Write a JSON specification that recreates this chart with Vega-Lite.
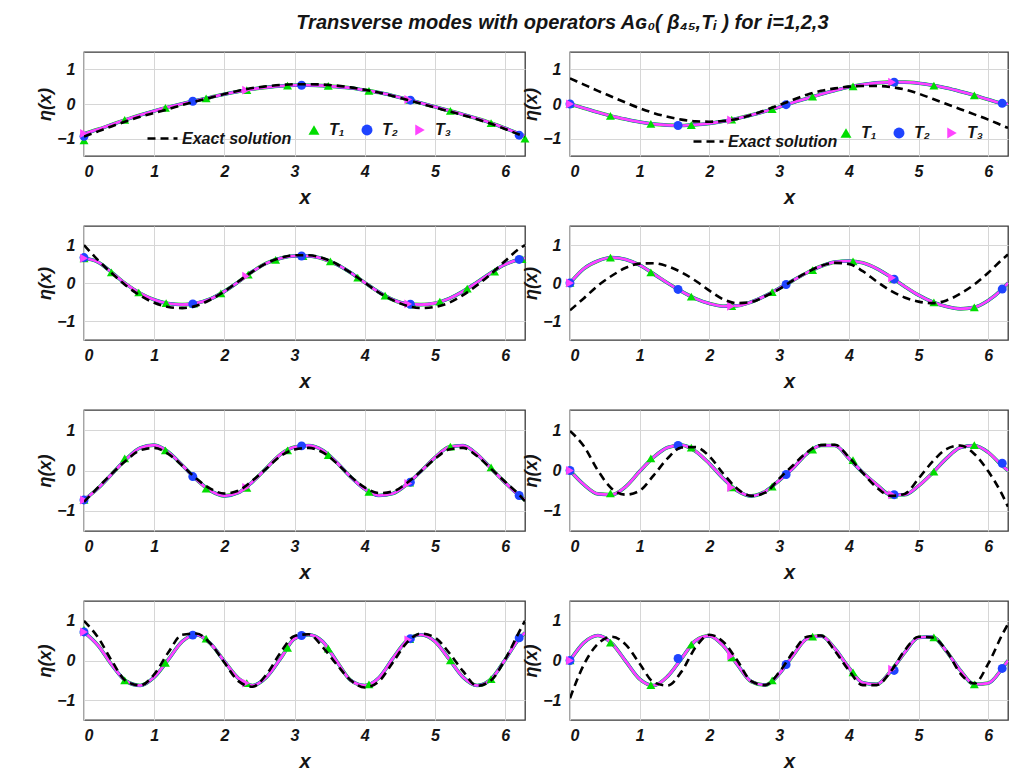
{
"$schema": "https://vega.github.io/schema/vega-lite/v6.json",
"autosize": {"type": "pad"},
"padding": {"left": 36, "top": 13, "right": 4, "bottom": 0},
"background": "white",
"title": {"text": "Transverse modes with operators Aɢ₀( β₄₅,Tᵢ ) for i=1,2,3", "anchor": "middle", "offset": 18, "dx": 40},
"config": {
  "font": "Liberation Sans",
  "view": {"stroke": "#3a3a3a", "strokeWidth": 1.3},
  "axis": {"grid": true, "gridColor": "#d6d6d6", "gridWidth": 1, "domain": false, "ticks": false, "tickSize": 0, "labelFont": "Liberation Sans", "labelFontWeight": "bold", "labelFontStyle": "italic", "labelFontSize": 16, "labelColor": "#151515", "titleFont": "Liberation Sans", "titleFontWeight": "bold", "titleFontStyle": "italic", "titleColor": "#151515"},
  "axisX": {"labelPadding": 7, "titleFontSize": 20, "titlePadding": 8, "format": "d"},
  "axisY": {"labelPadding": 9, "titleFontSize": 18, "titlePadding": 2, "format": "d"},
  "legend": {"padding": 0, "labelFont": "Liberation Sans", "labelFontWeight": "bold", "labelFontStyle": "italic", "labelFontSize": 16, "labelColor": "#151515"},
  "title": {"font": "Liberation Sans", "fontSize": 20, "fontWeight": "bold", "fontStyle": "italic", "color": "#151515"}
},
"datasets": {
"c": [
{"p":1,"x":0,"e":-0.94,"t":-0.86},{"p":1,"x":0.2,"e":-0.79,"t":-0.73},{"p":1,"x":0.4,"e":-0.64,"t":-0.59},{"p":1,"x":0.6,"e":-0.5,"t":-0.45},{"p":1,"x":0.8,"e":-0.37,"t":-0.32},{"p":1,"x":1,"e":-0.26,"t":-0.2},{"p":1,"x":1.2,"e":-0.15,"t":-0.09},{"p":1,"x":1.4,"e":-0.03,"t":0.01},{"p":1,"x":1.6,"e":0.08,"t":0.1},{"p":1,"x":1.8,"e":0.18,"t":0.19},{"p":1,"x":2,"e":0.29,"t":0.28},{"p":1,"x":2.2,"e":0.38,"t":0.36},{"p":1,"x":2.4,"e":0.46,"t":0.43},{"p":1,"x":2.6,"e":0.51,"t":0.48},{"p":1,"x":2.8,"e":0.55,"t":0.52},{"p":1,"x":3,"e":0.57,"t":0.54},{"p":1,"x":3.2,"e":0.57,"t":0.54},{"p":1,"x":3.4,"e":0.56,"t":0.53},{"p":1,"x":3.6,"e":0.53,"t":0.5},{"p":1,"x":3.8,"e":0.48,"t":0.46},{"p":1,"x":4,"e":0.41,"t":0.4},{"p":1,"x":4.2,"e":0.33,"t":0.33},{"p":1,"x":4.4,"e":0.23,"t":0.24},{"p":1,"x":4.6,"e":0.12,"t":0.14},{"p":1,"x":4.8,"e":0.01,"t":0.03},{"p":1,"x":5,"e":-0.1,"t":-0.08},{"p":1,"x":5.2,"e":-0.21,"t":-0.19},{"p":1,"x":5.4,"e":-0.32,"t":-0.3},{"p":1,"x":5.6,"e":-0.44,"t":-0.42},{"p":1,"x":5.8,"e":-0.57,"t":-0.55},{"p":1,"x":6,"e":-0.72,"t":-0.7},{"p":1,"x":6.2,"e":-0.88,"t":-0.86},{"p":1,"x":6.283,"e":-0.94,"t":-0.93},
{"p":2,"x":0,"e":0.74,"t":0},{"p":2,"x":0.2,"e":0.56,"t":-0.12},{"p":2,"x":0.4,"e":0.38,"t":-0.24},{"p":2,"x":0.6,"e":0.21,"t":-0.35},{"p":2,"x":0.8,"e":0.04,"t":-0.44},{"p":2,"x":1,"e":-0.12,"t":-0.52},{"p":2,"x":1.2,"e":-0.26,"t":-0.58},{"p":2,"x":1.4,"e":-0.37,"t":-0.61},{"p":2,"x":1.6,"e":-0.45,"t":-0.62},{"p":2,"x":1.8,"e":-0.5,"t":-0.6},{"p":2,"x":2,"e":-0.51,"t":-0.56},{"p":2,"x":2.2,"e":-0.49,"t":-0.5},{"p":2,"x":2.4,"e":-0.43,"t":-0.42},{"p":2,"x":2.6,"e":-0.32,"t":-0.32},{"p":2,"x":2.8,"e":-0.18,"t":-0.21},{"p":2,"x":3,"e":-0.03,"t":-0.09},{"p":2,"x":3.2,"e":0.12,"t":0.04},{"p":2,"x":3.4,"e":0.27,"t":0.16},{"p":2,"x":3.6,"e":0.38,"t":0.28},{"p":2,"x":3.8,"e":0.45,"t":0.39},{"p":2,"x":4,"e":0.5,"t":0.49},{"p":2,"x":4.2,"e":0.52,"t":0.56},{"p":2,"x":4.4,"e":0.52,"t":0.61},{"p":2,"x":4.6,"e":0.49,"t":0.63},{"p":2,"x":4.8,"e":0.42,"t":0.63},{"p":2,"x":5,"e":0.3,"t":0.6},{"p":2,"x":5.2,"e":0.15,"t":0.54},{"p":2,"x":5.4,"e":0,"t":0.46},{"p":2,"x":5.6,"e":-0.15,"t":0.36},{"p":2,"x":5.8,"e":-0.3,"t":0.25},{"p":2,"x":6,"e":-0.45,"t":0.13},{"p":2,"x":6.2,"e":-0.62,"t":0.02},{"p":2,"x":6.283,"e":-0.69,"t":0},
{"p":3,"x":0,"e":1.0,"t":0.65},{"p":3,"x":0.2,"e":0.6,"t":0.55},{"p":3,"x":0.4,"e":0.25,"t":0.27},{"p":3,"x":0.6,"e":-0.07,"t":-0.03},{"p":3,"x":0.8,"e":-0.33,"t":-0.27},{"p":3,"x":1,"e":-0.52,"t":-0.44},{"p":3,"x":1.2,"e":-0.63,"t":-0.54},{"p":3,"x":1.4,"e":-0.66,"t":-0.57},{"p":3,"x":1.6,"e":-0.6,"t":-0.53},{"p":3,"x":1.8,"e":-0.44,"t":-0.42},{"p":3,"x":2,"e":-0.22,"t":-0.22},{"p":3,"x":2.2,"e":0.04,"t":0.03},{"p":3,"x":2.4,"e":0.3,"t":0.3},{"p":3,"x":2.6,"e":0.52,"t":0.52},{"p":3,"x":2.8,"e":0.66,"t":0.65},{"p":3,"x":3,"e":0.73,"t":0.71},{"p":3,"x":3.2,"e":0.73,"t":0.71},{"p":3,"x":3.4,"e":0.66,"t":0.64},{"p":3,"x":3.6,"e":0.5,"t":0.49},{"p":3,"x":3.8,"e":0.27,"t":0.27},{"p":3,"x":4,"e":0.01,"t":0.01},{"p":3,"x":4.2,"e":-0.25,"t":-0.24},{"p":3,"x":4.4,"e":-0.45,"t":-0.44},{"p":3,"x":4.6,"e":-0.6,"t":-0.55},{"p":3,"x":4.8,"e":-0.66,"t":-0.57},{"p":3,"x":5,"e":-0.63,"t":-0.53},{"p":3,"x":5.2,"e":-0.52,"t":-0.41},{"p":3,"x":5.4,"e":-0.32,"t":-0.22},{"p":3,"x":5.6,"e":-0.06,"t":0.02},{"p":3,"x":5.8,"e":0.24,"t":0.27},{"p":3,"x":6,"e":0.58,"t":0.49},{"p":3,"x":6.2,"e":0.9,"t":0.62},{"p":3,"x":6.283,"e":1.0,"t":0.65},
{"p":4,"x":0,"e":-0.72,"t":0},{"p":4,"x":0.2,"e":-0.4,"t":0.38},{"p":4,"x":0.4,"e":-0.07,"t":0.58},{"p":4,"x":0.6,"e":0.19,"t":0.67},{"p":4,"x":0.8,"e":0.4,"t":0.62},{"p":4,"x":1,"e":0.51,"t":0.47},{"p":4,"x":1.2,"e":0.52,"t":0.24},{"p":4,"x":1.4,"e":0.44,"t":0},{"p":4,"x":1.6,"e":0.28,"t":-0.22},{"p":4,"x":1.8,"e":0.06,"t":-0.41},{"p":4,"x":2,"e":-0.2,"t":-0.54},{"p":4,"x":2.2,"e":-0.43,"t":-0.61},{"p":4,"x":2.4,"e":-0.53,"t":-0.6},{"p":4,"x":2.6,"e":-0.5,"t":-0.5},{"p":4,"x":2.8,"e":-0.35,"t":-0.34},{"p":4,"x":3,"e":-0.16,"t":-0.14},{"p":4,"x":3.2,"e":0.07,"t":0.07},{"p":4,"x":3.4,"e":0.28,"t":0.27},{"p":4,"x":3.6,"e":0.45,"t":0.44},{"p":4,"x":3.8,"e":0.53,"t":0.55},{"p":4,"x":4,"e":0.5,"t":0.58},{"p":4,"x":4.2,"e":0.31,"t":0.53},{"p":4,"x":4.4,"e":0.04,"t":0.38},{"p":4,"x":4.6,"e":-0.2,"t":0.16},{"p":4,"x":4.8,"e":-0.38,"t":-0.09},{"p":4,"x":5,"e":-0.49,"t":-0.32},{"p":4,"x":5.2,"e":-0.53,"t":-0.5},{"p":4,"x":5.4,"e":-0.46,"t":-0.62},{"p":4,"x":5.6,"e":-0.28,"t":-0.68},{"p":4,"x":5.8,"e":-0.04,"t":-0.64},{"p":4,"x":6,"e":0.27,"t":-0.46},{"p":4,"x":6.2,"e":0.62,"t":-0.16},{"p":4,"x":6.283,"e":0.75,"t":0},
{"p":5,"x":0,"e":-0.78,"t":-0.73},{"p":5,"x":0.2,"e":-0.42,"t":-0.44},{"p":5,"x":0.4,"e":-0.07,"t":-0.08},{"p":5,"x":0.6,"e":0.25,"t":0.28},{"p":5,"x":0.8,"e":0.5,"t":0.56},{"p":5,"x":1,"e":0.56,"t":0.63},{"p":5,"x":1.2,"e":0.41,"t":0.46},{"p":5,"x":1.4,"e":0.12,"t":0.13},{"p":5,"x":1.6,"e":-0.2,"t":-0.22},{"p":5,"x":1.8,"e":-0.45,"t":-0.5},{"p":5,"x":2,"e":-0.57,"t":-0.63},{"p":5,"x":2.2,"e":-0.5,"t":-0.55},{"p":5,"x":2.4,"e":-0.25,"t":-0.28},{"p":5,"x":2.6,"e":0.05,"t":0.06},{"p":5,"x":2.8,"e":0.36,"t":0.4},{"p":5,"x":3,"e":0.52,"t":0.58},{"p":5,"x":3.2,"e":0.56,"t":0.62},{"p":5,"x":3.4,"e":0.45,"t":0.5},{"p":5,"x":3.6,"e":0.18,"t":0.2},{"p":5,"x":3.8,"e":-0.15,"t":-0.16},{"p":5,"x":4,"e":-0.42,"t":-0.46},{"p":5,"x":4.2,"e":-0.56,"t":-0.62},{"p":5,"x":4.4,"e":-0.52,"t":-0.57},{"p":5,"x":4.6,"e":-0.31,"t":-0.34},{"p":5,"x":4.8,"e":-0.02,"t":-0.02},{"p":5,"x":5,"e":0.29,"t":0.32},{"p":5,"x":5.2,"e":0.52,"t":0.58},{"p":5,"x":5.4,"e":0.56,"t":0.62},{"p":5,"x":5.6,"e":0.36,"t":0.4},{"p":5,"x":5.8,"e":0.04,"t":0.05},{"p":5,"x":6,"e":-0.28,"t":-0.3},{"p":5,"x":6.2,"e":-0.6,"t":-0.62},{"p":5,"x":6.283,"e":-0.76,"t":-0.73},
{"p":6,"x":0,"e":0.98,"t":0},{"p":6,"x":0.2,"e":0.6,"t":-0.35},{"p":6,"x":0.4,"e":0.0,"t":-0.58},{"p":6,"x":0.6,"e":-0.45,"t":-0.6},{"p":6,"x":0.8,"e":-0.6,"t":-0.4},{"p":6,"x":1,"e":-0.5,"t":-0.02},{"p":6,"x":1.2,"e":-0.12,"t":0.33},{"p":6,"x":1.4,"e":0.3,"t":0.57},{"p":6,"x":1.6,"e":0.57,"t":0.63},{"p":6,"x":1.8,"e":0.58,"t":0.48},{"p":6,"x":2,"e":0.35,"t":0.17},{"p":6,"x":2.2,"e":-0.08,"t":-0.2},{"p":6,"x":2.4,"e":-0.45,"t":-0.5},{"p":6,"x":2.6,"e":-0.63,"t":-0.63},{"p":6,"x":2.8,"e":-0.55,"t":-0.52},{"p":6,"x":3,"e":-0.2,"t":-0.25},{"p":6,"x":3.2,"e":0.13,"t":0.06},{"p":6,"x":3.4,"e":0.45,"t":0.42},{"p":6,"x":3.6,"e":0.63,"t":0.62},{"p":6,"x":3.8,"e":0.64,"t":0.62},{"p":6,"x":4,"e":0.33,"t":0.3},{"p":6,"x":4.2,"e":-0.06,"t":-0.05},{"p":6,"x":4.4,"e":-0.42,"t":-0.35},{"p":6,"x":4.6,"e":-0.63,"t":-0.6},{"p":6,"x":4.8,"e":-0.58,"t":-0.6},{"p":6,"x":5,"e":-0.2,"t":-0.38},{"p":6,"x":5.2,"e":0.22,"t":-0.06},{"p":6,"x":5.4,"e":0.53,"t":0.3},{"p":6,"x":5.6,"e":0.62,"t":0.57},{"p":6,"x":5.8,"e":0.41,"t":0.62},{"p":6,"x":6,"e":-0.02,"t":0.45},{"p":6,"x":6.2,"e":-0.6,"t":0.12},{"p":6,"x":6.283,"e":-0.9,"t":0},
{"p":7,"x":0,"e":1.0,"t":0.72},{"p":7,"x":0.2,"e":0.58,"t":0.38},{"p":7,"x":0.4,"e":-0.02,"t":-0.12},{"p":7,"x":0.6,"e":-0.52,"t":-0.52},{"p":7,"x":0.8,"e":-0.63,"t":-0.63},{"p":7,"x":1,"e":-0.35,"t":-0.42},{"p":7,"x":1.2,"e":0.2,"t":0.02},{"p":7,"x":1.4,"e":0.65,"t":0.48},{"p":7,"x":1.6,"e":0.68,"t":0.65},{"p":7,"x":1.8,"e":0.43,"t":0.43},{"p":7,"x":2,"e":-0.05,"t":-0.02},{"p":7,"x":2.2,"e":-0.52,"t":-0.45},{"p":7,"x":2.4,"e":-0.66,"t":-0.63},{"p":7,"x":2.6,"e":-0.35,"t":-0.42},{"p":7,"x":2.8,"e":0.2,"t":0.05},{"p":7,"x":3,"e":0.62,"t":0.55},{"p":7,"x":3.2,"e":0.66,"t":0.65},{"p":7,"x":3.4,"e":0.34,"t":0.48},{"p":7,"x":3.6,"e":-0.1,"t":-0.02},{"p":7,"x":3.8,"e":-0.5,"t":-0.5},{"p":7,"x":4,"e":-0.68,"t":-0.63},{"p":7,"x":4.2,"e":-0.53,"t":-0.44},{"p":7,"x":4.4,"e":-0.05,"t":0.05},{"p":7,"x":4.6,"e":0.45,"t":0.5},{"p":7,"x":4.8,"e":0.68,"t":0.65},{"p":7,"x":5,"e":0.58,"t":0.48},{"p":7,"x":5.2,"e":0.2,"t":0.04},{"p":7,"x":5.4,"e":-0.27,"t":-0.42},{"p":7,"x":5.6,"e":-0.64,"t":-0.63},{"p":7,"x":5.8,"e":-0.5,"t":-0.47},{"p":7,"x":6,"e":0.03,"t":0.02},{"p":7,"x":6.2,"e":0.72,"t":0.55},{"p":7,"x":6.283,"e":1.0,"t":0.7},
{"p":8,"x":0,"e":-0.95,"t":0},{"p":8,"x":0.2,"e":-0.1,"t":0.45},{"p":8,"x":0.4,"e":0.42,"t":0.63},{"p":8,"x":0.6,"e":0.6,"t":0.43},{"p":8,"x":0.8,"e":0.4,"t":-0.02},{"p":8,"x":1,"e":-0.08,"t":-0.47},{"p":8,"x":1.2,"e":-0.55,"t":-0.63},{"p":8,"x":1.4,"e":-0.63,"t":-0.4},{"p":8,"x":1.6,"e":-0.28,"t":0.05},{"p":8,"x":1.8,"e":0.33,"t":0.5},{"p":8,"x":2,"e":0.65,"t":0.62},{"p":8,"x":2.2,"e":0.47,"t":0.37},{"p":8,"x":2.4,"e":0.0,"t":-0.1},{"p":8,"x":2.6,"e":-0.52,"t":-0.53},{"p":8,"x":2.8,"e":-0.62,"t":-0.62},{"p":8,"x":3,"e":-0.3,"t":-0.34},{"p":8,"x":3.2,"e":0.21,"t":0.13},{"p":8,"x":3.4,"e":0.6,"t":0.55},{"p":8,"x":3.6,"e":0.63,"t":0.62},{"p":8,"x":3.8,"e":0.24,"t":0.3},{"p":8,"x":4,"e":-0.25,"t":-0.18},{"p":8,"x":4.2,"e":-0.62,"t":-0.56},{"p":8,"x":4.4,"e":-0.62,"t":-0.6},{"p":8,"x":4.6,"e":-0.28,"t":-0.27},{"p":8,"x":4.8,"e":0.25,"t":0.2},{"p":8,"x":5,"e":0.6,"t":0.58},{"p":8,"x":5.2,"e":0.58,"t":0.6},{"p":8,"x":5.4,"e":0.25,"t":0.23},{"p":8,"x":5.6,"e":-0.33,"t":-0.25},{"p":8,"x":5.8,"e":-0.58,"t":-0.6},{"p":8,"x":6,"e":-0.08,"t":-0.57},{"p":8,"x":6.2,"e":0.65,"t":-0.2},{"p":8,"x":6.283,"e":0.92,"t":0}
],
"m": [
{"p":1,"s":"T₁","x":0,"y":-1.05},{"p":1,"s":"T₁","x":0.58,"y":-0.46},{"p":1,"s":"T₁","x":1.16,"y":-0.11},{"p":1,"s":"T₁","x":1.74,"y":0.16},{"p":1,"s":"T₁","x":2.32,"y":0.4},{"p":1,"s":"T₁","x":2.9,"y":0.53},{"p":1,"s":"T₁","x":3.48,"y":0.52},{"p":1,"s":"T₁","x":4.06,"y":0.38},{"p":1,"s":"T₁","x":4.64,"y":0.12},{"p":1,"s":"T₁","x":5.22,"y":-0.2},{"p":1,"s":"T₁","x":5.8,"y":-0.55},{"p":1,"s":"T₁","x":6.283,"y":-1.0},
{"p":1,"s":"T₂","x":0,"y":-0.93},{"p":1,"s":"T₂","x":1.55,"y":0.08},{"p":1,"s":"T₂","x":3.1,"y":0.54},{"p":1,"s":"T₂","x":4.65,"y":0.11},{"p":1,"s":"T₂","x":6.2,"y":-0.9},
{"p":1,"s":"T₃","x":0,"y":-0.85},{"p":1,"s":"T₃","x":2.31,"y":0.4},{"p":1,"s":"T₃","x":4.62,"y":0.13},
{"p":2,"s":"T₁","x":0,"y":0},{"p":2,"s":"T₁","x":0.58,"y":-0.34},{"p":2,"s":"T₁","x":1.16,"y":-0.57},{"p":2,"s":"T₁","x":1.74,"y":-0.61},{"p":2,"s":"T₁","x":2.32,"y":-0.45},{"p":2,"s":"T₁","x":2.9,"y":-0.15},{"p":2,"s":"T₁","x":3.48,"y":0.21},{"p":2,"s":"T₁","x":4.06,"y":0.51},{"p":2,"s":"T₁","x":4.64,"y":0.63},{"p":2,"s":"T₁","x":5.22,"y":0.53},{"p":2,"s":"T₁","x":5.8,"y":0.25},
{"p":2,"s":"T₂","x":0,"y":0},{"p":2,"s":"T₂","x":1.55,"y":-0.62},{"p":2,"s":"T₂","x":3.1,"y":-0.02},{"p":2,"s":"T₂","x":4.65,"y":0.63},{"p":2,"s":"T₂","x":6.2,"y":0.02},
{"p":2,"s":"T₃","x":0,"y":0},{"p":2,"s":"T₃","x":2.31,"y":-0.46},{"p":2,"s":"T₃","x":4.62,"y":0.63},
{"p":3,"s":"T₁","x":0,"y":0.65},{"p":3,"s":"T₁","x":0.39,"y":0.28},{"p":3,"s":"T₁","x":0.78,"y":-0.25},{"p":3,"s":"T₁","x":1.17,"y":-0.53},{"p":3,"s":"T₁","x":1.56,"y":-0.54},{"p":3,"s":"T₁","x":1.95,"y":-0.27},{"p":3,"s":"T₁","x":2.34,"y":0.22},{"p":3,"s":"T₁","x":2.73,"y":0.61},{"p":3,"s":"T₁","x":3.12,"y":0.71},{"p":3,"s":"T₁","x":3.51,"y":0.57},{"p":3,"s":"T₁","x":3.9,"y":0.14},{"p":3,"s":"T₁","x":4.29,"y":-0.33},{"p":3,"s":"T₁","x":4.68,"y":-0.56},{"p":3,"s":"T₁","x":5.07,"y":-0.49},{"p":3,"s":"T₁","x":5.46,"y":-0.15},{"p":3,"s":"T₁","x":5.85,"y":0.3},{"p":3,"s":"T₁","x":6.24,"y":0.63},
{"p":3,"s":"T₂","x":0,"y":0.67},{"p":3,"s":"T₂","x":1.55,"y":-0.55},{"p":3,"s":"T₂","x":3.1,"y":0.71},{"p":3,"s":"T₂","x":4.65,"y":-0.56},{"p":3,"s":"T₂","x":6.2,"y":0.62},
{"p":3,"s":"T₃","x":0,"y":0.65},{"p":3,"s":"T₃","x":2.31,"y":0.18},{"p":3,"s":"T₃","x":4.62,"y":-0.55},
{"p":4,"s":"T₁","x":0,"y":0},{"p":4,"s":"T₁","x":0.58,"y":0.67},{"p":4,"s":"T₁","x":1.16,"y":0.28},{"p":4,"s":"T₁","x":1.74,"y":-0.36},{"p":4,"s":"T₁","x":2.32,"y":-0.61},{"p":4,"s":"T₁","x":2.9,"y":-0.24},{"p":4,"s":"T₁","x":3.48,"y":0.34},{"p":4,"s":"T₁","x":4.06,"y":0.57},{"p":4,"s":"T₁","x":4.64,"y":0.11},{"p":4,"s":"T₁","x":5.22,"y":-0.51},{"p":4,"s":"T₁","x":5.8,"y":-0.64},
{"p":4,"s":"T₂","x":0,"y":0},{"p":4,"s":"T₂","x":1.55,"y":-0.17},{"p":4,"s":"T₂","x":3.1,"y":-0.04},{"p":4,"s":"T₂","x":4.65,"y":0.1},{"p":4,"s":"T₂","x":6.2,"y":-0.16},
{"p":4,"s":"T₃","x":0,"y":0},{"p":4,"s":"T₃","x":2.31,"y":-0.61},{"p":4,"s":"T₃","x":4.62,"y":0.14},
{"p":5,"s":"T₁","x":0,"y":-0.73},{"p":5,"s":"T₁","x":0.58,"y":0.3},{"p":5,"s":"T₁","x":1.16,"y":0.5},{"p":5,"s":"T₁","x":1.74,"y":-0.45},{"p":5,"s":"T₁","x":2.32,"y":-0.43},{"p":5,"s":"T₁","x":2.9,"y":0.5},{"p":5,"s":"T₁","x":3.48,"y":0.38},{"p":5,"s":"T₁","x":4.06,"y":-0.53},{"p":5,"s":"T₁","x":4.64,"y":-0.3},{"p":5,"s":"T₁","x":5.22,"y":0.59},{"p":5,"s":"T₁","x":5.8,"y":0.08},
{"p":5,"s":"T₂","x":0,"y":-0.73},{"p":5,"s":"T₂","x":1.55,"y":-0.15},{"p":5,"s":"T₂","x":3.1,"y":0.61},{"p":5,"s":"T₂","x":4.65,"y":-0.29},{"p":5,"s":"T₂","x":6.2,"y":-0.62},
{"p":5,"s":"T₃","x":0,"y":-0.73},{"p":5,"s":"T₃","x":2.31,"y":-0.42},{"p":5,"s":"T₃","x":4.62,"y":-0.32},
{"p":6,"s":"T₁","x":0,"y":0},{"p":6,"s":"T₁","x":0.58,"y":-0.57},{"p":6,"s":"T₁","x":1.16,"y":0.3},{"p":6,"s":"T₁","x":1.74,"y":0.57},{"p":6,"s":"T₁","x":2.32,"y":-0.42},{"p":6,"s":"T₁","x":2.9,"y":-0.4},{"p":6,"s":"T₁","x":3.48,"y":0.52},{"p":6,"s":"T₁","x":4.06,"y":0.26},{"p":6,"s":"T₁","x":4.64,"y":-0.6},{"p":6,"s":"T₁","x":5.22,"y":-0.03},{"p":6,"s":"T₁","x":5.8,"y":0.63},
{"p":6,"s":"T₂","x":0,"y":0},{"p":6,"s":"T₂","x":1.55,"y":0.62},{"p":6,"s":"T₂","x":3.1,"y":-0.1},{"p":6,"s":"T₂","x":4.65,"y":-0.6},{"p":6,"s":"T₂","x":6.2,"y":0.18},
{"p":6,"s":"T₃","x":0,"y":0},{"p":6,"s":"T₃","x":2.31,"y":-0.42},{"p":6,"s":"T₃","x":4.62,"y":-0.6},
{"p":7,"s":"T₁","x":0,"y":0.78},{"p":7,"s":"T₁","x":0.58,"y":-0.5},{"p":7,"s":"T₁","x":1.16,"y":-0.06},{"p":7,"s":"T₁","x":1.74,"y":0.55},{"p":7,"s":"T₁","x":2.32,"y":-0.57},{"p":7,"s":"T₁","x":2.9,"y":0.32},{"p":7,"s":"T₁","x":3.48,"y":0.3},{"p":7,"s":"T₁","x":4.06,"y":-0.6},{"p":7,"s":"T₁","x":4.64,"y":0.54},{"p":7,"s":"T₁","x":5.22,"y":0.0},{"p":7,"s":"T₁","x":5.8,"y":-0.47},
{"p":7,"s":"T₂","x":0,"y":0.72},{"p":7,"s":"T₂","x":1.55,"y":0.64},{"p":7,"s":"T₂","x":3.1,"y":0.63},{"p":7,"s":"T₂","x":4.65,"y":0.55},{"p":7,"s":"T₂","x":6.2,"y":0.57},
{"p":7,"s":"T₃","x":0,"y":0.72},{"p":7,"s":"T₃","x":2.31,"y":-0.57},{"p":7,"s":"T₃","x":4.62,"y":0.52},
{"p":8,"s":"T₁","x":0,"y":0},{"p":8,"s":"T₁","x":0.58,"y":0.45},{"p":8,"s":"T₁","x":1.16,"y":-0.62},{"p":8,"s":"T₁","x":1.74,"y":0.4},{"p":8,"s":"T₁","x":2.32,"y":0.08},{"p":8,"s":"T₁","x":2.9,"y":-0.5},{"p":8,"s":"T₁","x":3.48,"y":0.6},{"p":8,"s":"T₁","x":4.06,"y":-0.3},{"p":8,"s":"T₁","x":4.64,"y":-0.2},{"p":8,"s":"T₁","x":5.22,"y":0.58},{"p":8,"s":"T₁","x":5.8,"y":-0.6},
{"p":8,"s":"T₂","x":0,"y":0},{"p":8,"s":"T₂","x":1.55,"y":0.05},{"p":8,"s":"T₂","x":3.1,"y":-0.1},{"p":8,"s":"T₂","x":4.65,"y":-0.25},{"p":8,"s":"T₂","x":6.2,"y":-0.2},
{"p":8,"s":"T₃","x":0,"y":0},{"p":8,"s":"T₃","x":2.31,"y":0.12},{"p":8,"s":"T₃","x":4.62,"y":-0.22}
]
},
"columns": 2,
"spacing": {"row": 70, "column": 45},
"bounds": "flush",
"align": "each",
"resolve": {"scale": {"color": "independent", "shape": "independent", "strokeDash": "independent"}},
"concat": [
{"width": 441, "height": 104, "layer": [
 {"data": {"name": "c"}, "transform": [{"filter": "datum.p==1"}], "mark": {"type": "line", "color": "#00dd00", "strokeWidth": 3.6, "interpolate": "monotone", "clip": true}, "encoding": {"x": {"field": "x", "type": "quantitative", "title": "x", "scale": {"domain": [0, 6.2832], "nice": false, "zero": false}, "axis": {"values": [0,1,2,3,4,5,6]}}, "y": {"field": "t", "type": "quantitative", "title": "η(x)", "scale": {"domain": [-1.5, 1.5], "nice": false}, "axis": {"values": [-1,0,1]}}}},
 {"data": {"name": "c"}, "transform": [{"filter": "datum.p==1"}], "mark": {"type": "line", "color": "#1f44ff", "strokeWidth": 3.0, "interpolate": "monotone", "clip": true}, "encoding": {"x": {"field": "x", "type": "quantitative", "title": "x"}, "y": {"field": "t", "type": "quantitative", "title": "η(x)"}}},
 {"data": {"name": "c"}, "transform": [{"filter": "datum.p==1"}], "mark": {"type": "line", "color": "#ff44ff", "strokeWidth": 2.6, "interpolate": "monotone", "clip": true}, "encoding": {"x": {"field": "x", "type": "quantitative", "title": "x"}, "y": {"field": "t", "type": "quantitative", "title": "η(x)"}}},
 {"data": {"name": "m"}, "transform": [{"filter": "datum.p==1"}], "mark": {"type": "point", "filled": true, "opacity": 1, "size": 80}, "encoding": {"x": {"field": "x", "type": "quantitative", "title": "x"}, "y": {"field": "y", "type": "quantitative", "title": "η(x)"},
   "color": {"field": "s", "type": "nominal", "scale": {"domain": ["T₁","T₂","T₃"], "range": ["#00dd00","#1f44ff","#ff44ff"]}, "legend": {"orient": "none", "legendX": 222, "legendY": 70, "title": null, "direction": "horizontal", "symbolSize": 120, "labelOffset": 7, "columnPadding": 14}},
   "shape": {"field": "s", "type": "nominal", "scale": {"domain": ["T₁","T₂","T₃"], "range": ["triangle-up","circle","triangle-right"]}, "legend": {"orient": "none", "legendX": 222, "legendY": 70, "title": null, "direction": "horizontal", "symbolSize": 120, "labelOffset": 7, "columnPadding": 14}}}},
 {"data": {"name": "c"}, "transform": [{"filter": "datum.p==1"}], "mark": {"type": "line", "color": "black", "strokeWidth": 2.6, "interpolate": "monotone", "clip": true}, "encoding": {"x": {"field": "x", "type": "quantitative", "title": "x"}, "y": {"field": "e", "type": "quantitative", "title": "η(x)"},
   "strokeDash": {"datum": "Exact solution", "type": "nominal", "scale": {"domain": ["Exact solution"], "range": [[8,5]]}, "legend": {"orient": "none", "legendX": 62, "legendY": 70, "title": null, "symbolType": "stroke", "symbolSize": 900, "symbolStrokeWidth": 2.6, "symbolStrokeColor": "black", "labelOffset": 3}}}}
]},
{"width": 438, "height": 104, "layer": [
 {"data": {"name": "c"}, "transform": [{"filter": "datum.p==2"}], "mark": {"type": "line", "color": "#00dd00", "strokeWidth": 3.6, "interpolate": "monotone", "clip": true}, "encoding": {"x": {"field": "x", "type": "quantitative", "title": "x", "scale": {"domain": [0, 6.2832], "nice": false, "zero": false}, "axis": {"values": [0,1,2,3,4,5,6]}}, "y": {"field": "t", "type": "quantitative", "title": "η(x)", "scale": {"domain": [-1.5, 1.5], "nice": false}, "axis": {"values": [-1,0,1]}}}},
 {"data": {"name": "c"}, "transform": [{"filter": "datum.p==2"}], "mark": {"type": "line", "color": "#1f44ff", "strokeWidth": 3.0, "interpolate": "monotone", "clip": true}, "encoding": {"x": {"field": "x", "type": "quantitative", "title": "x"}, "y": {"field": "t", "type": "quantitative", "title": "η(x)"}}},
 {"data": {"name": "c"}, "transform": [{"filter": "datum.p==2"}], "mark": {"type": "line", "color": "#ff44ff", "strokeWidth": 2.6, "interpolate": "monotone", "clip": true}, "encoding": {"x": {"field": "x", "type": "quantitative", "title": "x"}, "y": {"field": "t", "type": "quantitative", "title": "η(x)"}}},
 {"data": {"name": "m"}, "transform": [{"filter": "datum.p==2"}], "mark": {"type": "point", "filled": true, "opacity": 1, "size": 80}, "encoding": {"x": {"field": "x", "type": "quantitative", "title": "x"}, "y": {"field": "y", "type": "quantitative", "title": "η(x)"},
   "color": {"field": "s", "type": "nominal", "scale": {"domain": ["T₁","T₂","T₃"], "range": ["#00dd00","#1f44ff","#ff44ff"]}, "legend": {"orient": "none", "legendX": 268, "legendY": 73, "title": null, "direction": "horizontal", "symbolSize": 120, "labelOffset": 7, "columnPadding": 14}},
   "shape": {"field": "s", "type": "nominal", "scale": {"domain": ["T₁","T₂","T₃"], "range": ["triangle-up","circle","triangle-right"]}, "legend": {"orient": "none", "legendX": 268, "legendY": 73, "title": null, "direction": "horizontal", "symbolSize": 120, "labelOffset": 7, "columnPadding": 14}}}},
 {"data": {"name": "c"}, "transform": [{"filter": "datum.p==2"}], "mark": {"type": "line", "color": "black", "strokeWidth": 2.6, "interpolate": "monotone", "clip": true}, "encoding": {"x": {"field": "x", "type": "quantitative", "title": "x"}, "y": {"field": "e", "type": "quantitative", "title": "η(x)"},
   "strokeDash": {"datum": "Exact solution", "type": "nominal", "scale": {"domain": ["Exact solution"], "range": [[8,5]]}, "legend": {"orient": "none", "legendX": 122, "legendY": 73, "title": null, "symbolType": "stroke", "symbolSize": 900, "symbolStrokeWidth": 2.6, "symbolStrokeColor": "black", "labelOffset": 3}}}}
]},
{"width": 441, "height": 114, "layer": [
 {"data": {"name": "c"}, "transform": [{"filter": "datum.p==3"}], "mark": {"type": "line", "color": "#00dd00", "strokeWidth": 3.6, "interpolate": "monotone", "clip": true}, "encoding": {"x": {"field": "x", "type": "quantitative", "title": "x", "scale": {"domain": [0, 6.2832], "nice": false, "zero": false}, "axis": {"values": [0,1,2,3,4,5,6]}}, "y": {"field": "t", "type": "quantitative", "title": "η(x)", "scale": {"domain": [-1.5, 1.5], "nice": false}, "axis": {"values": [-1,0,1]}}}},
 {"data": {"name": "c"}, "transform": [{"filter": "datum.p==3"}], "mark": {"type": "line", "color": "#1f44ff", "strokeWidth": 3.0, "interpolate": "monotone", "clip": true}, "encoding": {"x": {"field": "x", "type": "quantitative", "title": "x"}, "y": {"field": "t", "type": "quantitative", "title": "η(x)"}}},
 {"data": {"name": "c"}, "transform": [{"filter": "datum.p==3"}], "mark": {"type": "line", "color": "#ff44ff", "strokeWidth": 2.6, "interpolate": "monotone", "clip": true}, "encoding": {"x": {"field": "x", "type": "quantitative", "title": "x"}, "y": {"field": "t", "type": "quantitative", "title": "η(x)"}}},
 {"data": {"name": "m"}, "transform": [{"filter": "datum.p==3"}], "mark": {"type": "point", "filled": true, "opacity": 1, "size": 80}, "encoding": {"x": {"field": "x", "type": "quantitative", "title": "x"}, "y": {"field": "y", "type": "quantitative", "title": "η(x)"},
   "color": {"field": "s", "type": "nominal", "scale": {"domain": ["T₁","T₂","T₃"], "range": ["#00dd00","#1f44ff","#ff44ff"]}, "legend": null},
   "shape": {"field": "s", "type": "nominal", "scale": {"domain": ["T₁","T₂","T₃"], "range": ["triangle-up","circle","triangle-right"]}, "legend": null}}},
 {"data": {"name": "c"}, "transform": [{"filter": "datum.p==3"}], "mark": {"type": "line", "color": "black", "strokeWidth": 2.6, "strokeDash": [8,5], "interpolate": "monotone", "clip": true}, "encoding": {"x": {"field": "x", "type": "quantitative", "title": "x"}, "y": {"field": "e", "type": "quantitative", "title": "η(x)"}}}
]},
{"width": 438, "height": 114, "layer": [
 {"data": {"name": "c"}, "transform": [{"filter": "datum.p==4"}], "mark": {"type": "line", "color": "#00dd00", "strokeWidth": 3.6, "interpolate": "monotone", "clip": true}, "encoding": {"x": {"field": "x", "type": "quantitative", "title": "x", "scale": {"domain": [0, 6.2832], "nice": false, "zero": false}, "axis": {"values": [0,1,2,3,4,5,6]}}, "y": {"field": "t", "type": "quantitative", "title": "η(x)", "scale": {"domain": [-1.5, 1.5], "nice": false}, "axis": {"values": [-1,0,1]}}}},
 {"data": {"name": "c"}, "transform": [{"filter": "datum.p==4"}], "mark": {"type": "line", "color": "#1f44ff", "strokeWidth": 3.0, "interpolate": "monotone", "clip": true}, "encoding": {"x": {"field": "x", "type": "quantitative", "title": "x"}, "y": {"field": "t", "type": "quantitative", "title": "η(x)"}}},
 {"data": {"name": "c"}, "transform": [{"filter": "datum.p==4"}], "mark": {"type": "line", "color": "#ff44ff", "strokeWidth": 2.6, "interpolate": "monotone", "clip": true}, "encoding": {"x": {"field": "x", "type": "quantitative", "title": "x"}, "y": {"field": "t", "type": "quantitative", "title": "η(x)"}}},
 {"data": {"name": "m"}, "transform": [{"filter": "datum.p==4"}], "mark": {"type": "point", "filled": true, "opacity": 1, "size": 80}, "encoding": {"x": {"field": "x", "type": "quantitative", "title": "x"}, "y": {"field": "y", "type": "quantitative", "title": "η(x)"},
   "color": {"field": "s", "type": "nominal", "scale": {"domain": ["T₁","T₂","T₃"], "range": ["#00dd00","#1f44ff","#ff44ff"]}, "legend": null},
   "shape": {"field": "s", "type": "nominal", "scale": {"domain": ["T₁","T₂","T₃"], "range": ["triangle-up","circle","triangle-right"]}, "legend": null}}},
 {"data": {"name": "c"}, "transform": [{"filter": "datum.p==4"}], "mark": {"type": "line", "color": "black", "strokeWidth": 2.6, "strokeDash": [8,5], "interpolate": "monotone", "clip": true}, "encoding": {"x": {"field": "x", "type": "quantitative", "title": "x"}, "y": {"field": "e", "type": "quantitative", "title": "η(x)"}}}
]},
{"width": 441, "height": 121, "layer": [
 {"data": {"name": "c"}, "transform": [{"filter": "datum.p==5"}], "mark": {"type": "line", "color": "#00dd00", "strokeWidth": 3.6, "interpolate": "monotone", "clip": true}, "encoding": {"x": {"field": "x", "type": "quantitative", "title": "x", "scale": {"domain": [0, 6.2832], "nice": false, "zero": false}, "axis": {"values": [0,1,2,3,4,5,6]}}, "y": {"field": "t", "type": "quantitative", "title": "η(x)", "scale": {"domain": [-1.5, 1.5], "nice": false}, "axis": {"values": [-1,0,1]}}}},
 {"data": {"name": "c"}, "transform": [{"filter": "datum.p==5"}], "mark": {"type": "line", "color": "#1f44ff", "strokeWidth": 3.0, "interpolate": "monotone", "clip": true}, "encoding": {"x": {"field": "x", "type": "quantitative", "title": "x"}, "y": {"field": "t", "type": "quantitative", "title": "η(x)"}}},
 {"data": {"name": "c"}, "transform": [{"filter": "datum.p==5"}], "mark": {"type": "line", "color": "#ff44ff", "strokeWidth": 2.6, "interpolate": "monotone", "clip": true}, "encoding": {"x": {"field": "x", "type": "quantitative", "title": "x"}, "y": {"field": "t", "type": "quantitative", "title": "η(x)"}}},
 {"data": {"name": "m"}, "transform": [{"filter": "datum.p==5"}], "mark": {"type": "point", "filled": true, "opacity": 1, "size": 80}, "encoding": {"x": {"field": "x", "type": "quantitative", "title": "x"}, "y": {"field": "y", "type": "quantitative", "title": "η(x)"},
   "color": {"field": "s", "type": "nominal", "scale": {"domain": ["T₁","T₂","T₃"], "range": ["#00dd00","#1f44ff","#ff44ff"]}, "legend": null},
   "shape": {"field": "s", "type": "nominal", "scale": {"domain": ["T₁","T₂","T₃"], "range": ["triangle-up","circle","triangle-right"]}, "legend": null}}},
 {"data": {"name": "c"}, "transform": [{"filter": "datum.p==5"}], "mark": {"type": "line", "color": "black", "strokeWidth": 2.6, "strokeDash": [8,5], "interpolate": "monotone", "clip": true}, "encoding": {"x": {"field": "x", "type": "quantitative", "title": "x"}, "y": {"field": "e", "type": "quantitative", "title": "η(x)"}}}
]},
{"width": 438, "height": 121, "layer": [
 {"data": {"name": "c"}, "transform": [{"filter": "datum.p==6"}], "mark": {"type": "line", "color": "#00dd00", "strokeWidth": 3.6, "interpolate": "monotone", "clip": true}, "encoding": {"x": {"field": "x", "type": "quantitative", "title": "x", "scale": {"domain": [0, 6.2832], "nice": false, "zero": false}, "axis": {"values": [0,1,2,3,4,5,6]}}, "y": {"field": "t", "type": "quantitative", "title": "η(x)", "scale": {"domain": [-1.5, 1.5], "nice": false}, "axis": {"values": [-1,0,1]}}}},
 {"data": {"name": "c"}, "transform": [{"filter": "datum.p==6"}], "mark": {"type": "line", "color": "#1f44ff", "strokeWidth": 3.0, "interpolate": "monotone", "clip": true}, "encoding": {"x": {"field": "x", "type": "quantitative", "title": "x"}, "y": {"field": "t", "type": "quantitative", "title": "η(x)"}}},
 {"data": {"name": "c"}, "transform": [{"filter": "datum.p==6"}], "mark": {"type": "line", "color": "#ff44ff", "strokeWidth": 2.6, "interpolate": "monotone", "clip": true}, "encoding": {"x": {"field": "x", "type": "quantitative", "title": "x"}, "y": {"field": "t", "type": "quantitative", "title": "η(x)"}}},
 {"data": {"name": "m"}, "transform": [{"filter": "datum.p==6"}], "mark": {"type": "point", "filled": true, "opacity": 1, "size": 80}, "encoding": {"x": {"field": "x", "type": "quantitative", "title": "x"}, "y": {"field": "y", "type": "quantitative", "title": "η(x)"},
   "color": {"field": "s", "type": "nominal", "scale": {"domain": ["T₁","T₂","T₃"], "range": ["#00dd00","#1f44ff","#ff44ff"]}, "legend": null},
   "shape": {"field": "s", "type": "nominal", "scale": {"domain": ["T₁","T₂","T₃"], "range": ["triangle-up","circle","triangle-right"]}, "legend": null}}},
 {"data": {"name": "c"}, "transform": [{"filter": "datum.p==6"}], "mark": {"type": "line", "color": "black", "strokeWidth": 2.6, "strokeDash": [8,5], "interpolate": "monotone", "clip": true}, "encoding": {"x": {"field": "x", "type": "quantitative", "title": "x"}, "y": {"field": "e", "type": "quantitative", "title": "η(x)"}}}
]},
{"width": 441, "height": 119, "layer": [
 {"data": {"name": "c"}, "transform": [{"filter": "datum.p==7"}], "mark": {"type": "line", "color": "#00dd00", "strokeWidth": 3.6, "interpolate": "monotone", "clip": true}, "encoding": {"x": {"field": "x", "type": "quantitative", "title": "x", "scale": {"domain": [0, 6.2832], "nice": false, "zero": false}, "axis": {"values": [0,1,2,3,4,5,6]}}, "y": {"field": "t", "type": "quantitative", "title": "η(x)", "scale": {"domain": [-1.5, 1.5], "nice": false}, "axis": {"values": [-1,0,1]}}}},
 {"data": {"name": "c"}, "transform": [{"filter": "datum.p==7"}], "mark": {"type": "line", "color": "#1f44ff", "strokeWidth": 3.0, "interpolate": "monotone", "clip": true}, "encoding": {"x": {"field": "x", "type": "quantitative", "title": "x"}, "y": {"field": "t", "type": "quantitative", "title": "η(x)"}}},
 {"data": {"name": "c"}, "transform": [{"filter": "datum.p==7"}], "mark": {"type": "line", "color": "#ff44ff", "strokeWidth": 2.6, "interpolate": "monotone", "clip": true}, "encoding": {"x": {"field": "x", "type": "quantitative", "title": "x"}, "y": {"field": "t", "type": "quantitative", "title": "η(x)"}}},
 {"data": {"name": "m"}, "transform": [{"filter": "datum.p==7"}], "mark": {"type": "point", "filled": true, "opacity": 1, "size": 80}, "encoding": {"x": {"field": "x", "type": "quantitative", "title": "x"}, "y": {"field": "y", "type": "quantitative", "title": "η(x)"},
   "color": {"field": "s", "type": "nominal", "scale": {"domain": ["T₁","T₂","T₃"], "range": ["#00dd00","#1f44ff","#ff44ff"]}, "legend": null},
   "shape": {"field": "s", "type": "nominal", "scale": {"domain": ["T₁","T₂","T₃"], "range": ["triangle-up","circle","triangle-right"]}, "legend": null}}},
 {"data": {"name": "c"}, "transform": [{"filter": "datum.p==7"}], "mark": {"type": "line", "color": "black", "strokeWidth": 2.6, "strokeDash": [8,5], "interpolate": "monotone", "clip": true}, "encoding": {"x": {"field": "x", "type": "quantitative", "title": "x"}, "y": {"field": "e", "type": "quantitative", "title": "η(x)"}}}
]},
{"width": 438, "height": 119, "layer": [
 {"data": {"name": "c"}, "transform": [{"filter": "datum.p==8"}], "mark": {"type": "line", "color": "#00dd00", "strokeWidth": 3.6, "interpolate": "monotone", "clip": true}, "encoding": {"x": {"field": "x", "type": "quantitative", "title": "x", "scale": {"domain": [0, 6.2832], "nice": false, "zero": false}, "axis": {"values": [0,1,2,3,4,5,6]}}, "y": {"field": "t", "type": "quantitative", "title": "η(x)", "scale": {"domain": [-1.5, 1.5], "nice": false}, "axis": {"values": [-1,0,1]}}}},
 {"data": {"name": "c"}, "transform": [{"filter": "datum.p==8"}], "mark": {"type": "line", "color": "#1f44ff", "strokeWidth": 3.0, "interpolate": "monotone", "clip": true}, "encoding": {"x": {"field": "x", "type": "quantitative", "title": "x"}, "y": {"field": "t", "type": "quantitative", "title": "η(x)"}}},
 {"data": {"name": "c"}, "transform": [{"filter": "datum.p==8"}], "mark": {"type": "line", "color": "#ff44ff", "strokeWidth": 2.6, "interpolate": "monotone", "clip": true}, "encoding": {"x": {"field": "x", "type": "quantitative", "title": "x"}, "y": {"field": "t", "type": "quantitative", "title": "η(x)"}}},
 {"data": {"name": "m"}, "transform": [{"filter": "datum.p==8"}], "mark": {"type": "point", "filled": true, "opacity": 1, "size": 80}, "encoding": {"x": {"field": "x", "type": "quantitative", "title": "x"}, "y": {"field": "y", "type": "quantitative", "title": "η(x)"},
   "color": {"field": "s", "type": "nominal", "scale": {"domain": ["T₁","T₂","T₃"], "range": ["#00dd00","#1f44ff","#ff44ff"]}, "legend": null},
   "shape": {"field": "s", "type": "nominal", "scale": {"domain": ["T₁","T₂","T₃"], "range": ["triangle-up","circle","triangle-right"]}, "legend": null}}},
 {"data": {"name": "c"}, "transform": [{"filter": "datum.p==8"}], "mark": {"type": "line", "color": "black", "strokeWidth": 2.6, "strokeDash": [8,5], "interpolate": "monotone", "clip": true}, "encoding": {"x": {"field": "x", "type": "quantitative", "title": "x"}, "y": {"field": "e", "type": "quantitative", "title": "η(x)"}}}
]}
]
}
